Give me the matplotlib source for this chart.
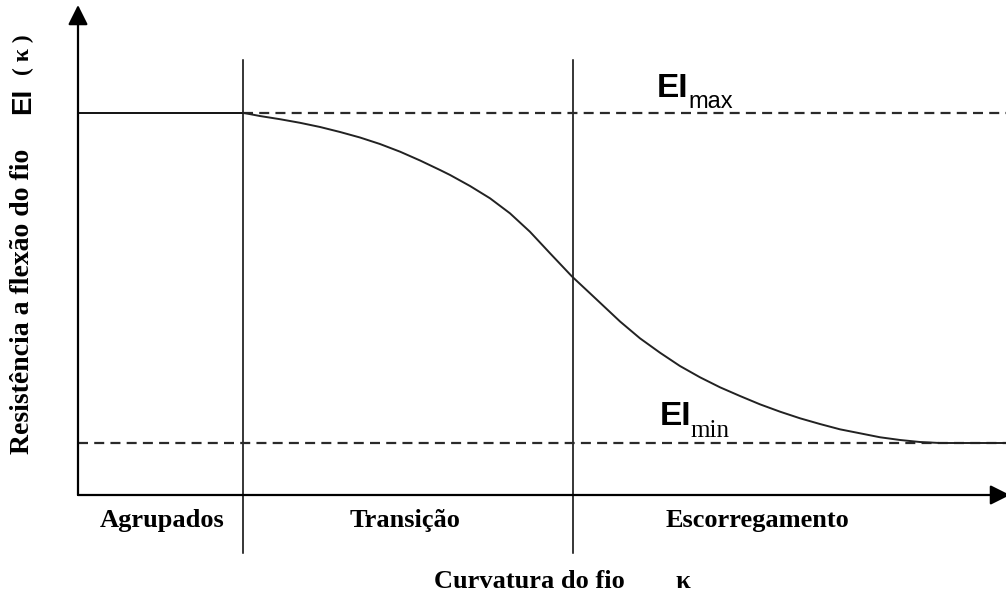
import matplotlib
matplotlib.use("Agg")
import matplotlib.pyplot as plt

W, H = 1006, 596

# curvature (kappa) and bending stiffness EI
kappa = [1.000, 1.103, 1.224, 1.345, 1.467, 1.588, 1.709, 1.830, 1.952,
         2.073, 2.194, 2.255, 2.376, 2.497, 2.618, 2.739, 2.861, 2.994,
         3.103, 3.224, 3.285, 3.406, 3.527, 3.648, 3.770, 3.891, 4.012,
         4.133, 4.255, 4.376, 4.497, 4.618, 4.739, 4.861, 4.982, 5.103,
         5.224, 5.624]
ei = [7.350, 7.288, 7.227, 7.158, 7.077, 6.981, 6.875, 6.750, 6.602,
      6.433, 6.250, 6.154, 5.942, 5.706, 5.417, 5.063, 4.648, 4.202,
      3.879, 3.519, 3.337, 3.013, 2.737, 2.481, 2.263, 2.071, 1.904,
      1.744, 1.602, 1.475, 1.365, 1.263, 1.187, 1.110, 1.058, 1.019,
      1.000, 1.000]

ei_max = 7.35
ei_min = 1.00
k_bounds = [1.0, 3.0]      # Agrupados | Transição | Escorregamento
k_end = 5.624
region_names = ["Agrupados", "Transição", "Escorregamento"]

fig = plt.figure(figsize=(W / 100, H / 100), dpi=100)
ax = fig.add_axes([0, 0, 1, 1])
# 165 px per kappa unit, 52 px per EI unit, origin at pixel (78, 495)
ax.set_xlim(-78 / 165, (W - 78) / 165)
ax.set_ylim((495 - H) / 52, 495 / 52)
ax.axis("off")

def px(x, y):
    return x / W, 1 - y / H

# axes with arrow heads
arr = dict(arrowstyle="-|>,head_length=1.2,head_width=0.6", lw=1.6,
           color="black", shrinkA=0, shrinkB=0, mutation_scale=10)
ax.annotate("", xy=(0, 490 / 52), xytext=(0, 0), arrowprops=arr,
            annotation_clip=False)
ax.annotate("", xy=((1010 - 78) / 165, 0), xytext=(0, 0), arrowprops=arr,
            annotation_clip=False)

# region boundaries
for kb in k_bounds:
    ax.plot([kb, kb], [-58 / 52, 435 / 52], color="black", lw=1.1)

# EI max / min levels
ax.plot([0, k_bounds[0]], [ei_max, ei_max], color="black", lw=1.3)
ax.plot([k_bounds[0], k_end], [ei_max, ei_max], color="#2a2a2a", lw=1.6,
        ls=(0, (4.5, 2.8)))
ax.plot([0, k_end], [ei_min, ei_min], color="#2a2a2a", lw=1.6,
        ls=(0, (4.5, 2.8)))

# stiffness curve
ax.plot(kappa, ei, color="#222222", lw=1.4, solid_joinstyle="round")

serif = "Liberation Serif"
sans = "Liberation Sans"

# labels of the levels
fig.text(*px(657, 97), "EI", family=sans, weight="bold", fontsize=24,
         ha="left", va="baseline")
fig.text(*px(688, 108), "max", family=sans, fontsize=17,
         ha="left", va="baseline")
fig.text(*px(660, 425), "EI", family=sans, weight="bold", fontsize=24,
         ha="left", va="baseline")
fig.text(*px(690, 437), "min", family=serif, fontsize=18,
         ha="left", va="baseline")

# region names
for name, cx in zip(region_names, [162, 405, 757]):
    fig.text(*px(cx, 527), name, family=serif, weight="bold", fontsize=19,
             ha="center", va="baseline")

# axis titles
fig.text(*px(529, 588), "Curvatura do fio", family=serif, weight="bold",
         fontsize=19, ha="center", va="baseline")
fig.text(*px(683, 588), "κ", family=serif, weight="bold", fontsize=19,
         ha="center", va="baseline")
fig.text(*px(23, 301), "Resistência a flexão do fio", family=serif,
         weight="bold", fontsize=20, rotation=90, ha="center", va="center")
fig.text(*px(23, 101), "EI", family=sans, weight="bold", fontsize=20,
         rotation=90, ha="center", va="center")
fig.text(*px(23, 55), "( κ )", family=serif, weight="bold", fontsize=17,
         rotation=90, ha="center", va="center")

fig.savefig("out.png", dpi=100)
